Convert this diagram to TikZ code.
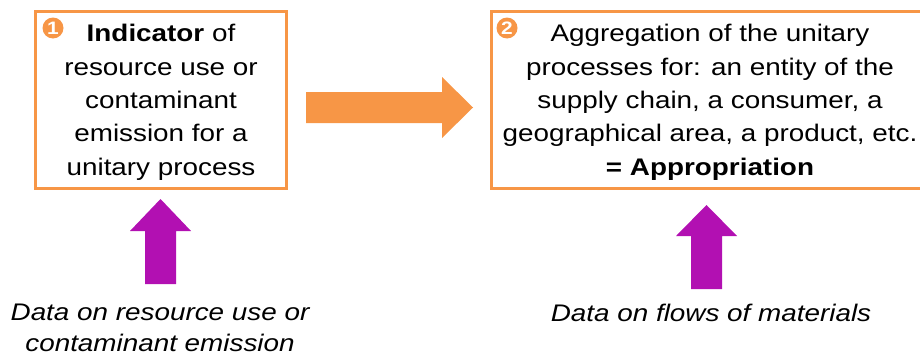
\documentclass[tikz,border=0pt]{standalone}
\usepackage{fontspec}
\setmainfont{Liberation Sans}[FakeStretch=1.16]
\definecolor{boxorange}{RGB}{247,150,70}
\definecolor{datapurple}{RGB}{178,16,178}
\begin{document}
\begin{tikzpicture}[x=1pt,y=-1pt,
  framebox/.style={draw=boxorange,line width=3pt},
  boxtext/.style={align=center,anchor=base,inner sep=0pt,
    font=\fontsize{24}{33.3}\selectfont},
  datatext/.style={align=center,anchor=base,inner sep=0pt,
    font=\fontsize{24}{31}\selectfont\itshape},
  badge/.style={circle,fill=boxorange,text=white,inner sep=0pt,
    minimum size=21pt,font=\fontsize{18}{18}\selectfont\bfseries},
  orangearrow/.style={fill=boxorange},
  purplearrow/.style={fill=datapurple}]
\useasboundingbox (0,0) rectangle (920,356);

% step 1: indicator box
\draw[framebox] (35.5,11.5) rectangle (286.5,188.5);
\node[badge] (b1) at (53,28) {1};
% anchored on the baseline of the last line
\node[boxtext] (t1) at (161,175)
  {\textbf{Indicator} of\\resource use or\\contaminant\\emission for a\\unitary process};

% step 2: aggregation box (right side runs past the page edge)
\draw[framebox] (491.5,11.5) rectangle (935,188.5);
\node[badge] (b2) at (507,28) {2};
\node[boxtext] (t2) at (710,175)
  {Aggregation of the unitary\\processes for: an entity of the\\supply chain, a consumer, a\\geographical area, a product, etc.\\\textbf{= Appropriation}};

% block arrow from step 1 to step 2
\fill[orangearrow] (306,92) -- (442,92) -- (442,77) -- (473,107.5)
  -- (442,138) -- (442,123) -- (306,123) -- cycle;

% input arrows
\fill[purplearrow] (145,284) -- (145,231) -- (130,231) -- (160.5,199)
  -- (191,231) -- (176,231) -- (176,284) -- cycle;
\fill[purplearrow] (691,289) -- (691,236) -- (676,236) -- (706.5,205)
  -- (737,236) -- (722,236) -- (722,289) -- cycle;

% data sources
\node[datatext] (d1) at (160,351) {Data on resource use or\\contaminant emission};
\node[datatext] (d2) at (711,321) {Data on flows of materials};
\end{tikzpicture}
\end{document}
